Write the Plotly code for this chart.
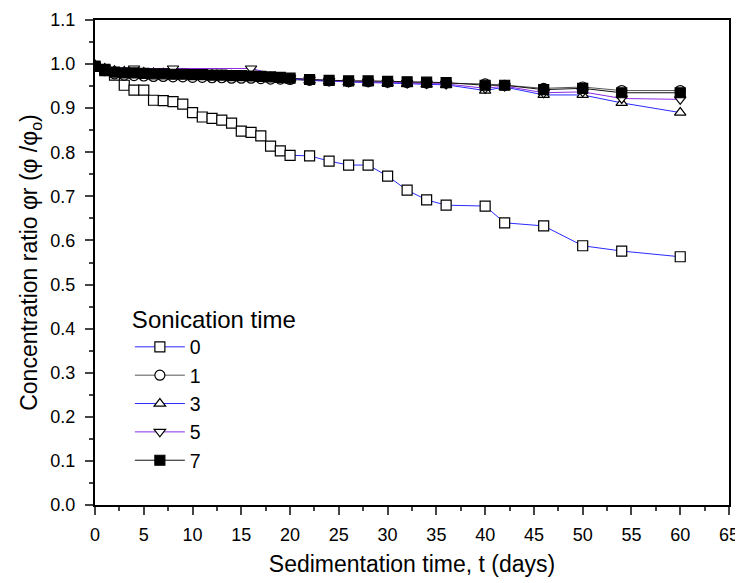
import plotly.graph_objects as go

# ---- data ----
x_main = [0, 1, 2, 3, 4, 5, 6, 7, 8, 9, 10, 11, 12, 13, 14, 15, 16, 17, 18, 19, 20,
          22, 24, 26, 28, 30, 32, 34, 36, 40, 42, 46, 50, 54, 60]
y_s0 = [0.995, 0.985, 0.975, 0.952, 0.941, 0.941, 0.918, 0.917, 0.915, 0.909, 0.890,
        0.880, 0.877, 0.873, 0.866, 0.848, 0.845, 0.837, 0.814, 0.803, 0.793,
        0.792, 0.780, 0.771, 0.771, 0.746, 0.714, 0.692, 0.680, 0.678, 0.640,
        0.633, 0.588, 0.576, 0.563]
y_s1 = [0.995, 0.985, 0.978, 0.975, 0.974, 0.973, 0.972, 0.972, 0.971, 0.971, 0.970,
        0.970, 0.969, 0.969, 0.968, 0.968, 0.968, 0.967, 0.966, 0.966, 0.965,
        0.963, 0.962, 0.960, 0.960, 0.959, 0.958, 0.957, 0.957, 0.955, 0.952,
        0.945, 0.948, 0.940, 0.940]
y_s3 = [0.998, 0.990, 0.985, 0.983, 0.982, 0.981, 0.980, 0.979, 0.979, 0.978, 0.977,
        0.976, 0.976, 0.975, 0.974, 0.973, 0.972, 0.971, 0.970, 0.969, 0.967,
        0.963, 0.961, 0.959, 0.958, 0.957, 0.955, 0.954, 0.953, 0.940, 0.948,
        0.930, 0.930, 0.912, 0.890]
x_s5 = [0, 1, 4, 8, 16, 20, 22, 24, 26, 28, 30, 32, 34, 36, 40, 42, 46, 50, 54, 60]
y_s5 = [0.997, 0.992, 0.990, 0.990, 0.990, 0.968, 0.965, 0.962, 0.960, 0.960, 0.958,
        0.957, 0.956, 0.955, 0.945, 0.950, 0.935, 0.937, 0.922, 0.920]
y_s7 = [0.995, 0.988, 0.982, 0.980, 0.980, 0.979, 0.978, 0.978, 0.977, 0.977, 0.976,
        0.976, 0.975, 0.975, 0.974, 0.974, 0.973, 0.972, 0.971, 0.970, 0.968,
        0.965, 0.963, 0.962, 0.962, 0.961, 0.960, 0.959, 0.958, 0.952, 0.952,
        0.942, 0.945, 0.935, 0.935]

x_ticks = list(range(0, 70, 5))
y_ticks = [round(i * 0.1, 1) for i in range(12)]
y_ticklabels = [f"{v:.1f}" for v in y_ticks]

series = [
    ("0", x_main, y_s0, "square", "white", "#2a2aff"),
    ("1", x_main, y_s1, "circle", "white", "#555555"),
    ("3", x_main, y_s3, "triangle-up", "white", "#2a2aff"),
    ("5", x_s5, y_s5, "triangle-down", "white", "#8a2be2"),
    ("7", x_main, y_s7, "square", "black", "#111111"),
]

fig = go.Figure()
for name, xs, ys, sym, fill, lc in series:
    fig.add_trace(go.Scatter(
        x=xs, y=ys, name=name, mode="lines+markers",
        line=dict(color=lc, width=1),
        marker=dict(symbol=sym, size=10, color=fill,
                    line=dict(color="black", width=1.2)),
    ))

font_family = "Liberation Sans, Arial, sans-serif"
# page body has an 8px margin; figure is sized so the plot lands where the reference has it
fig.update_layout(
    width=735, height=575,
    margin=dict(l=87, r=14, t=12, b=78),
    plot_bgcolor="white", paper_bgcolor="white",
    font=dict(family=font_family, color="black"),
    showlegend=True,
    legend=dict(
        title=dict(text="Sonication time", font=dict(size=24)),
        font=dict(size=19.5),
        x=0.055, y=0.43, xanchor="left", yanchor="top",
        bgcolor="rgba(0,0,0,0)", tracegroupgap=0, itemwidth=50,
    ),
    xaxis=dict(
        range=[0, 65], tickvals=x_ticks, ticks="outside", ticklen=8, tickwidth=1.5,
        showline=True, linewidth=2, linecolor="black", mirror=True,
        showgrid=False, zeroline=False, automargin=False,
        tickfont=dict(size=18), ticklabelstandoff=4,
        minor=dict(dtick=2.5, ticks="outside", ticklen=4, tickwidth=1.5, showgrid=False),
        title=dict(text="Sedimentation time, t (days)", font=dict(size=23), standoff=12),
    ),
    yaxis=dict(
        range=[0, 1.1], tickvals=y_ticks, ticktext=y_ticklabels,
        ticks="outside", ticklen=8, tickwidth=1.5,
        showline=True, linewidth=2, linecolor="black", mirror=True,
        showgrid=False, zeroline=False, automargin=False,
        tickfont=dict(size=18), ticklabelstandoff=6,
        minor=dict(dtick=0.05, ticks="outside", ticklen=4, tickwidth=1.5, showgrid=False),
        title=dict(text="Concentration ratio φr (φ /φ<sub>o</sub>)", font=dict(size=23), standoff=6),
    ),
)

fig.write_html("out.html")
